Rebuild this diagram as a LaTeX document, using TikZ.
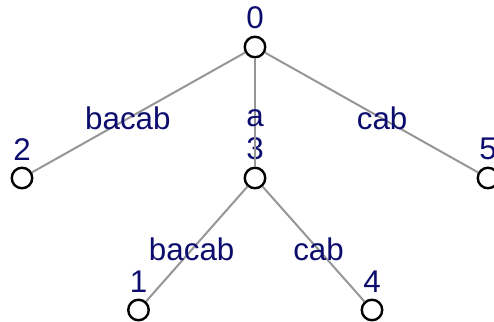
\documentclass[tikz,border=0pt]{standalone}
\usepackage{fontspec}
\setmainfont{Liberation Sans}
\definecolor{labelblue}{RGB}{12,12,110}
\definecolor{edgegray}{RGB}{150,150,150}
\begin{document}
\begin{tikzpicture}[x = .75pt, y = -.75pt, font = \fontsize{23.5pt}{28pt}\selectfont,
    vertex/.style = {circle, draw, line width = 1.8pt, minimum size = 15.4pt, inner sep = 0pt,
      label = {[text = labelblue, inner sep = 0pt, label distance = 4.5pt]above:#1}},
    branch/.style = {draw = edgegray, line width = 1.5pt},
    tag/.style = {text = labelblue, inner sep = 0pt, pos = .55}]
  \useasboundingbox (0,0) rectangle (494,322);
  % suffix tree nodes
  \node [vertex = 0] (n0) at (255,47)    {};
  \node [vertex = 2] (n2) at (22,178)    {};
  \node [vertex = 3] (n3) at (255,178)   {};
  \node [vertex = 5] (n5) at (488,178)   {};
  \node [vertex = 1] (n1) at (138.5,310) {};
  \node [vertex = 4] (n4) at (372,310)   {};
  % branches
  \draw [branch] (n0) -- node [tag] {bacab} (n2);
  \draw [branch] (n0) -- node [tag] {a}     (n3);
  \draw [branch] (n0) -- node [tag] {cab}   (n5);
  \draw [branch] (n3) -- node [tag] {bacab} (n1);
  \draw [branch] (n3) -- node [tag] {cab}   (n4);
\end{tikzpicture}
\end{document}
